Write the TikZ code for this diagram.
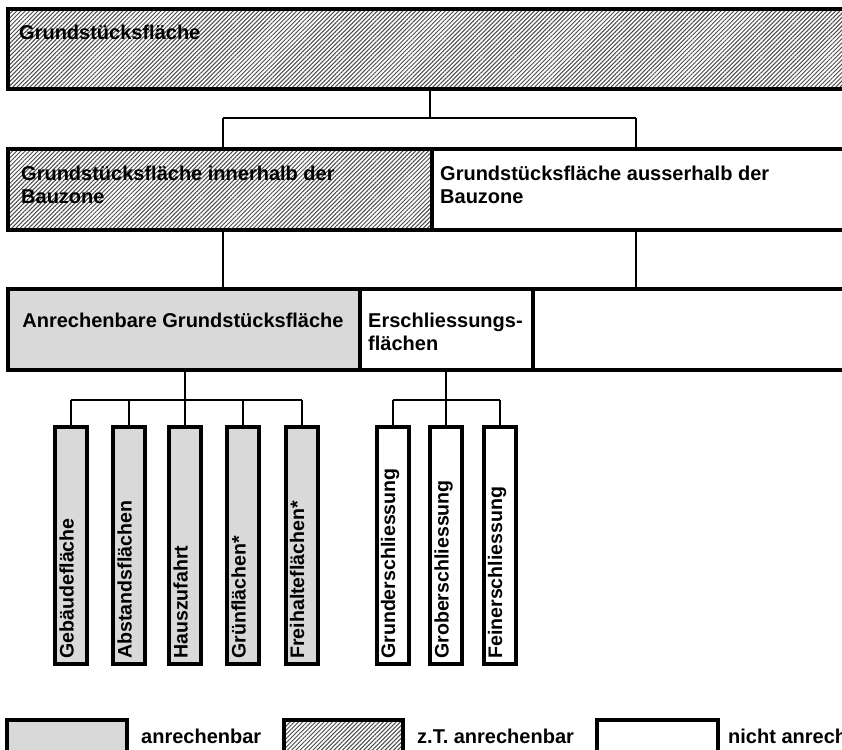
\documentclass[tikz,border=0pt]{standalone}
\usepackage{fontspec}
\setmainfont{Liberation Sans}
\usetikzlibrary{patterns.meta}
\tikzset{
  box/.style={draw=black, line width=4pt, inner sep=0pt, rectangle},
  hatched/.style={pattern={Lines[angle=45,distance=3pt,line width=1pt]}, pattern color=black!70},
  grayfill/.style={fill=black!15},
  whitefill/.style={fill=white},
  conn/.style={draw=black, line width=2pt},
  lbl/.style={inner sep=0pt, font=\fontsize{20}{23}\selectfont\bfseries, align=left},
  vbox/.style={box, grayfill, minimum width=32pt, minimum height=237pt},
  wbox/.style={box, whitefill, minimum width=32pt, minimum height=237pt},
  vtext/.style={lbl, font=\fontsize{19.6}{23}\selectfont\bfseries, rotate=90, anchor=mid west},
  legbox/.style={box, minimum height=32pt},
}
\begin{document}
\begin{tikzpicture}[x=1pt,y=-1pt]
\useasboundingbox (0,0) rectangle (842,749);
\clip (0,0) rectangle (842,749);
\fill[white] (0,0) rectangle (842,749);

% top row
\node[box,hatched,minimum width=842pt,minimum height=80pt] (top) at (429,49.5) {};
\node[lbl,anchor=base west] (ttop) at (19,40) {Grundstücksfläche};

% second row
\node[box,hatched,minimum width=424pt,minimum height=81pt] (inner) at (220,189.5) {};
\node[box,whitefill,minimum width=418pt,minimum height=81pt] (outer) at (641,189.5) {};
\node[lbl,anchor=base west] (tinner) at (21,203) {Grundstücksfläche innerhalb der\\Bauzone};
\node[lbl,anchor=base west] (touter) at (440,203) {Grundstücksfläche ausserhalb der\\Bauzone};

% third row
\node[box,grayfill,minimum width=352pt,minimum height=81pt] (anr) at (184,329.5) {};
\node[box,whitefill,minimum width=173pt,minimum height=81pt] (ers) at (446.5,329.5) {};
\node[box,whitefill,minimum width=317pt,minimum height=81pt] (rest) at (691.5,329.5) {};
\node[lbl,anchor=base] (tanr) at (183,327) {Anrechenbare Grundstücksfläche};
\node[lbl,anchor=base west] (ters) at (368,350) {Erschliessungs-\\flächen};

% connectors top -> row 2
\coordinate (j0) at (430,118);
\coordinate (jL) at (223,118);
\coordinate (jR) at (636,118);
\draw[conn] (top.south -| j0) -- (j0);
\draw[conn] (jL) -- (jR);
\draw[conn] (jL) -- (inner.north -| jL);
\draw[conn] (jR) -- (outer.north -| jR);
% row 2 -> row 3
\draw[conn] (inner.south -| jL) -- (anr.north -| jL);
\draw[conn] (outer.south -| jR) -- (rest.north -| jR);

% vertical boxes
\node[vbox] (v1) at (71,545.5) {};
\node[vbox] (v2) at (129,545.5) {};
\node[vbox] (v3) at (185,545.5) {};
\node[vbox] (v4) at (243,545.5) {};
\node[vbox] (v5) at (301.5,545.5) {};
\node[wbox] (v6) at (392.5,545.5) {};
\node[wbox] (v7) at (446,545.5) {};
\node[wbox] (v8) at (499.5,545.5) {};

\node[vtext] (t1) at ([yshift=7pt]v1.south) {Gebäudefläche};
\node[vtext] (t2) at ([yshift=7pt]v2.south) {Abstandsflächen};
\node[vtext] (t3) at ([yshift=7pt]v3.south) {Hauszufahrt};
\node[vtext] (t4) at ([yshift=7pt]v4.south) {Grünflächen*};
\node[vtext] (t5) at ([yshift=7pt]v5.south) {Freihalteflächen*};
\node[vtext] (t6) at ([yshift=7pt]v6.south) {Grunderschliessung};
\node[vtext] (t7) at ([yshift=7pt]v7.south) {Groberschliessung};
\node[vtext] (t8) at ([yshift=7pt]v8.south) {Feinerschliessung};

% connectors row 3 -> vertical boxes
\coordinate (k0) at (185,400);
\draw[conn] (anr.south -| k0) -- (k0);
\draw[conn] (v1.north |- k0) -- (v5.north |- k0);
\foreach \v in {v1,v2,v3,v4,v5} {\draw[conn] (\v.north |- k0) -- (\v.north);}
\coordinate (k1) at (446,400);
\draw[conn] (ers.south -| k1) -- (k1);
\draw[conn] (v6.north |- k1) -- (v8.north |- k1);
\foreach \v in {v6,v7,v8} {\draw[conn] (\v.north |- k1) -- (\v.north);}

% legend
\node[legbox,grayfill,minimum width=120pt] (l1) at (67,736) {};
\node[lbl,anchor=base west] (lt1) at (141,743) {anrechenbar};
\node[legbox,hatched,minimum width=119pt] (l2) at (343.5,736) {};
\node[lbl,anchor=base west] (lt2) at (417,743) {z.T. anrechenbar};
\node[legbox,whitefill,minimum width=121pt] (l3) at (657.5,736) {};
\node[lbl,anchor=base west] (lt3) at (728,743) {nicht anrechenbar};
\end{tikzpicture}
\end{document}
